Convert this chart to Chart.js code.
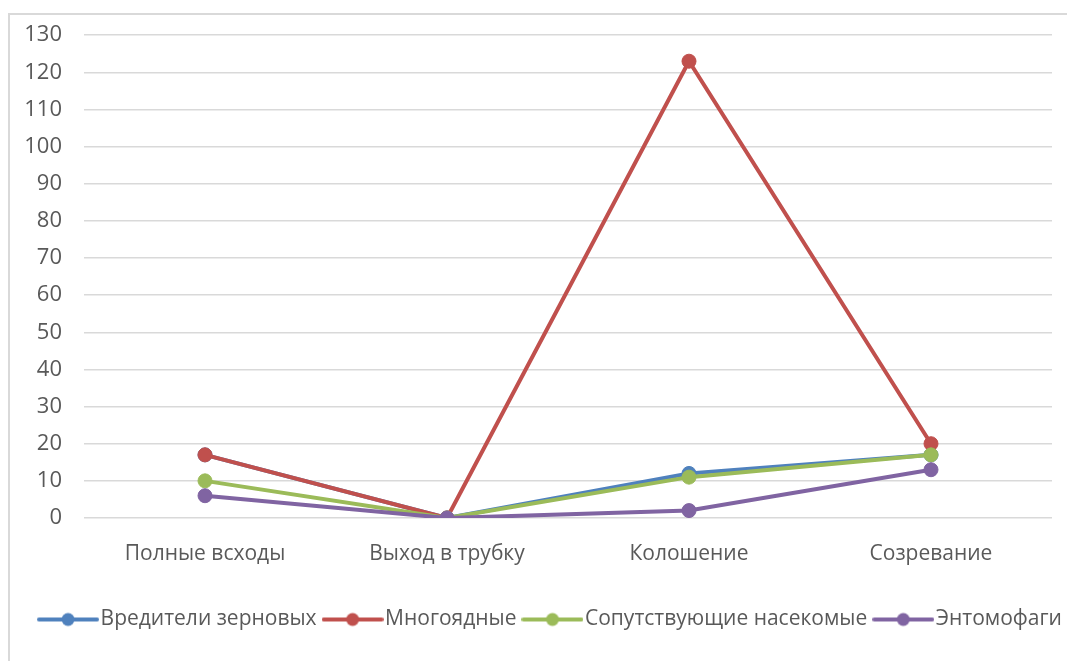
<!DOCTYPE html>
<html>
<head>
<meta charset="utf-8">
<script src="https://cdn.jsdelivr.net/npm/chart.js@4.4.1/dist/chart.umd.min.js"></script>
<style>
  html, body { margin: 0; padding: 0; background: #fff; }
  #wrap { position: relative; width: 1067px; height: 661px; }
</style>
</head>
<body>
<div id="wrap"><canvas id="chart"></canvas></div>
<script>
const categories = ['Полные всходы', 'Выход в трубку', 'Колошение', 'Созревание'];
const seriesNames = ['Вредители зерновых', 'Многоядные', 'Сопутствующие насекомые', 'Энтомофаги'];
const pestsGrain = [17, 0, 12, 17];
const polyphagous = [17, 0, 123, 20];
const accompanying = [10, 0, 11, 17];
const entomophages = [6, 0, 2, 13];
const colors = ['#4F81BD', '#C0504D', '#9BBB59', '#8064A2'];

const textColor = '#595959';
const gridColor = '#D9D9D9';
const fontFamily = "'Open Sans', 'Noto Sans', sans-serif";

// legend marker: line with a dot, like the office legend
function makeMarker(color) {
    const c = document.createElement('canvas');
    c.width = 62;
    c.height = 16;
    const ctx = c.getContext('2d');
    ctx.strokeStyle = color;
    ctx.lineWidth = 4;
    ctx.lineCap = 'round';
    ctx.beginPath();
    ctx.moveTo(2, 8);
    ctx.lineTo(60, 8);
    ctx.stroke();
    ctx.fillStyle = color;
    ctx.beginPath();
    ctx.arc(31, 8, 6.5, 0, Math.PI * 2);
    ctx.fill();
    return c;
}

const frame = {
    id: 'frame',
    beforeDraw(chart) {
        const ctx = chart.ctx;
        ctx.save();
        ctx.strokeStyle = gridColor;
        ctx.lineWidth = 2;
        ctx.strokeRect(9, 14, chart.width + 20, chart.height + 20);
        ctx.restore();
    },
    afterLayout(chart) {
        // legend sits a bit right of the plot centre in the original
        if (chart.legend) {
            chart.legend.left += 28;
            chart.legend.right += 28;
        }
    }
};

const allData = [pestsGrain, polyphagous, accompanying, entomophages];
const datasets = allData.map((d, i) => ({
    label: seriesNames[i],
    data: d,
    borderColor: colors[i],
    backgroundColor: colors[i],
    borderWidth: 4,
    pointRadius: 7,
    pointHoverRadius: 7,
    pointBorderWidth: 1,
    pointStyle: 'circle',
    tension: 0,
    order: 4 - i
}));

new Chart(document.getElementById('chart'), {
    type: 'line',
    data: { labels: categories, datasets: datasets },
    options: {
        responsive: true,
        maintainAspectRatio: false,
        animation: false,
        layout: { padding: { top: 20, right: 15, left: 0, bottom: 21 } },
        scales: {
            x: {
                offset: true,
                grid: { display: false },
                border: { display: false },
                ticks: { color: textColor, font: { family: fontFamily, size: 21 }, padding: 15 },
                afterFit(scale) { scale.height = 77; }
            },
            y: {
                min: 0,
                max: 130,
                ticks: { stepSize: 10, color: textColor, font: { family: fontFamily, size: 22 }, padding: 22 },
                grid: { color: gridColor, lineWidth: 1.5, drawTicks: false },
                border: { display: false },
                afterFit(scale) { scale.width = 84; }
            }
        },
        plugins: {
            legend: {
                position: 'bottom',
                labels: {
                    usePointStyle: true,
                    pointStyleWidth: 44,
                    padding: 14,
                    color: textColor,
                    font: { family: fontFamily, size: 21 },
                    sort: (a, b) => a.datasetIndex - b.datasetIndex,
                    generateLabels(chart) {
                        return chart.data.datasets.map((ds, i) => ({
                            text: ds.label,
                            fillStyle: ds.borderColor,
                            strokeStyle: ds.borderColor,
                            fontColor: textColor,
                            pointStyle: makeMarker(ds.borderColor),
                            hidden: false,
                            datasetIndex: i
                        }));
                    }
                }
            },
            tooltip: { enabled: false }
        }
    },
    plugins: [frame]
});
</script>
</body>
</html>
